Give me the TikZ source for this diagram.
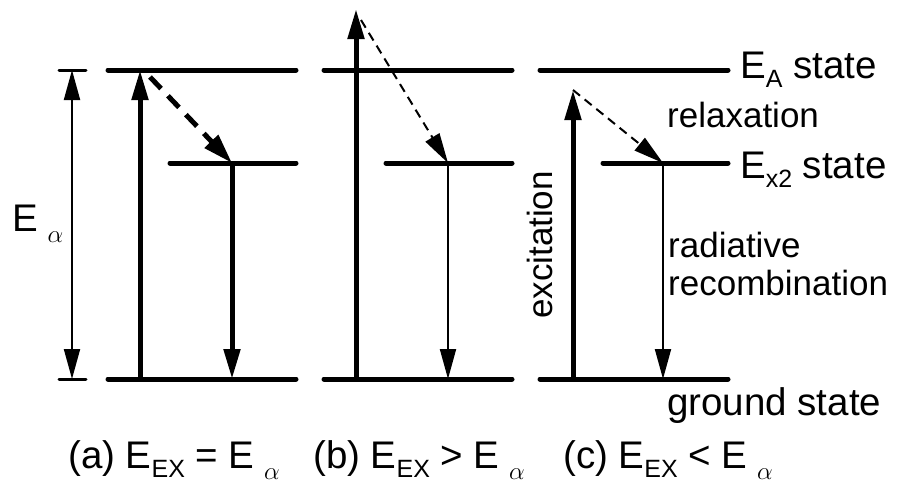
\documentclass[tikz,border=0pt]{standalone}
\usepackage{fontspec}
\setmainfont{Liberation Sans}
\usetikzlibrary{arrows.meta}
\newcommand\mysub[1]{\raisebox{-0.24em}{\fontsize{25}{25}\selectfont #1}}
\newcommand\myalpha{\raisebox{-0.3em}{\fontsize{24}{24}\selectfont$\alpha$}}
\begin{document}
\begin{tikzpicture}[x=1pt,y=-1pt,
  lvl/.style={line width=5pt, line cap=round},
  tick/.style={line width=3pt, line cap=round},
  thk/.style={line width=5pt, -{Triangle[length=30pt,width=16pt]}},
  thn/.style={line width=2pt, -{Triangle[length=30pt,width=16pt]}},
  dthk/.style={line width=5pt, dash pattern=on 16pt off 10pt, -{Triangle[length=30pt,width=18pt]}},
  dthn/.style={line width=2pt, dash pattern=on 9pt off 6pt, -{Triangle[length=30pt,width=16pt]}},
  big/.style={font=\fontsize{38.5}{40}\selectfont, inner sep=0pt, anchor=base west},
  mid/.style={font=\fontsize{35}{38}\selectfont, inner sep=0pt, anchor=base west},
]
\useasboundingbox (0,0) rectangle (898,483);
% level coordinates
\coordinate (aT1) at (108,70);  \coordinate (aT2) at (296,70);
\coordinate (aM1) at (170,163); \coordinate (aM2) at (296,163);
\coordinate (aB1) at (108,379); \coordinate (aB2) at (296,379);
\coordinate (bT1) at (324,70);  \coordinate (bT2) at (512,70);
\coordinate (bM1) at (386,163); \coordinate (bM2) at (512,163);
\coordinate (bB1) at (324,379); \coordinate (bB2) at (512,379);
\coordinate (cT1) at (540,70);  \coordinate (cT2) at (728,70);
\coordinate (cM1) at (603,163); \coordinate (cM2) at (728,163);
\coordinate (cB1) at (540,379); \coordinate (cB2) at (728,379);
\foreach \c in {a,b,c}{
  \draw[lvl] (\c T1) -- (\c T2);
  \draw[lvl] (\c M1) -- (\c M2);
  \draw[lvl] (\c B1) -- (\c B2);
}
% E alpha double arrow
\coordinate (ea1) at (72,70); \coordinate (ea2) at (72,379);
\coordinate (tk1l) at (59,70); \coordinate (tk1r) at (86,70);
\coordinate (tk2l) at (59,379); \coordinate (tk2r) at (86,379);
\draw[tick] (tk1l) -- (tk1r);
\draw[tick] (tk2l) -- (tk2r);
\draw[line width=2pt, {Triangle[length=30pt,width=16pt]}-{Triangle[length=30pt,width=16pt]}] (ea1) -- (ea2);
% (a)
\coordinate (aEb) at (140,379); \coordinate (aEt) at (140,70);
\coordinate (aDs) at (150,77);  \coordinate (aDe) at (232,163);
\coordinate (aRb) at (232,379);
\draw[thk] (aEb) -- (aEt);
\draw[dthk] (aDs) -- (aDe);
\draw[thk] (aDe) -- (aRb);
% (b)
\coordinate (bEb) at (356,379); \coordinate (bEt) at (356,9);
\coordinate (bDs) at (361,20);  \coordinate (bDe) at (448,163);
\coordinate (bRb) at (448,379);
\draw[thk] (bEb) -- (bEt);
\draw[dthn] (bDs) -- (bDe);
\draw[thn] (bDe) -- (bRb);
% (c)
\coordinate (cEb) at (573,379); \coordinate (cEt) at (573,90);
\coordinate (cDe) at (663,163);
\coordinate (cRb) at (663,379);
\draw[thk] (cEb) -- (cEt);
\draw[dthn] (cEt) -- (cDe);
\draw[thn] (cDe) -- (cRb);
% labels
\node[big] (lEA) at (740,78) {E\mysub{A} state};
\node[mid] (lrel) at (667,127) {relaxation};
\node[big] (lEx) at (740,178) {E\mysub{x2} state};
\node[mid] (lrad) at (668,257) {radiative};
\node[mid] (lrec) at (668,295) {recombination};
\node[big] (lgs) at (667,415) {ground state};
\node[mid, rotate=90, anchor=center] (lexc) at (540,245) {excitation};
\node[big] (lEal) at (12,231) {E\hspace{0.25em}\myalpha};
\node[big] (capa) at (68,468) {(a) E\mysub{EX} = E\hspace{0.25em}\myalpha};
\node[big] (capb) at (313,468) {(b) E\mysub{EX} > E\hspace{0.25em}\myalpha};
\node[big] (capc) at (563,468) {(c) E\mysub{EX} < E\hspace{0.25em}\myalpha};
\end{tikzpicture}
\end{document}
